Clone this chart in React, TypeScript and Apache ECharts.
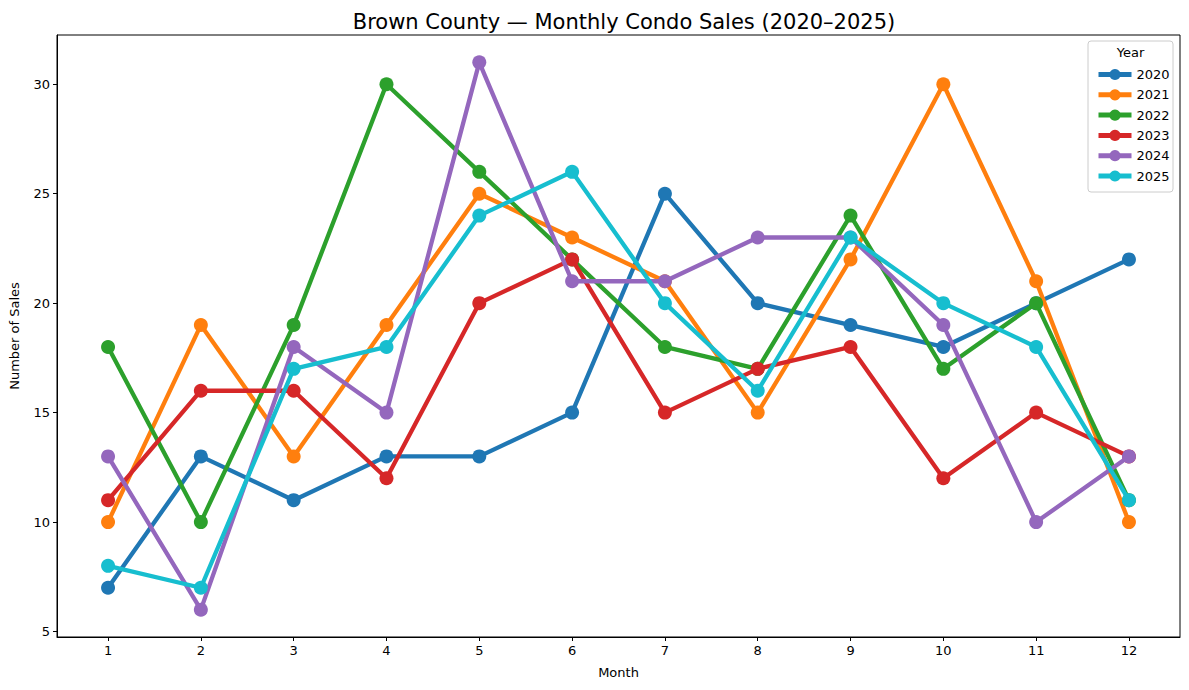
import React, { useEffect, useRef } from "react";
import * as echarts from "echarts";

const months = [1, 2, 3, 4, 5, 6, 7, 8, 9, 10, 11, 12];
const years = ["2020", "2021", "2022", "2023", "2024", "2025"];
const sales2020 = [7, 13, 11, 13, 13, 15, 25, 20, 19, 18, 20, 22];
const sales2021 = [10, 19, 13, 19, 25, 23, 21, 15, 22, 30, 21, 10];
const sales2022 = [18, 10, 19, 30, 26, 22, 18, 17, 24, 17, 20, 11];
const sales2023 = [11, 16, 16, 12, 20, 22, 15, 17, 18, 12, 15, 13];
const sales2024 = [13, 6, 18, 15, 31, 21, 21, 23, 23, 19, 10, 13];
const sales2025 = [8, 7, 17, 18, 24, 26, 20, 16, 23, 20, 18, 11];
const yTicks = [5, 10, 15, 20, 25, 30];
const colors = ["#1f77b4", "#ff7f0e", "#2ca02c", "#d62728", "#9467bd", "#17becf"];

const FONT = "DejaVu Sans";

export default function App() {
  const ref = useRef<HTMLDivElement>(null);
  useEffect(() => {
    if (!ref.current) return;
    const chart = echarts.init(ref.current, null, { renderer: "svg" });
    const all = [sales2020, sales2021, sales2022, sales2023, sales2024, sales2025];
    const series = years.map((y, i) => ({
      name: y,
      type: "line",
      data: months.map((m, j) => [m, all[i][j]]),
      symbol: "circle",
      symbolSize: 14,
      lineStyle: { width: 4.3, color: colors[i] },
      itemStyle: { color: colors[i] },
      z: 2 + i,
    }));
    chart.setOption({
      animation: false,
      textStyle: { fontFamily: FONT },
      title: {
        text: "Brown County — Monthly Condo Sales (2020–2025)",
        left: 619,
        top: 6,
        textAlign: "center",
        textStyle: { fontFamily: FONT, fontSize: 21, fontWeight: "normal", color: "#000" },
      },
      grid: {
        left: 57,
        right: 9,
        top: 35,
        bottom: 53,
        show: true,
        borderColor: "#000",
        borderWidth: 1,
        backgroundColor: "transparent",
      },
      xAxis: {
        type: "value",
        min: 0.45,
        max: 12.55,
        name: "Month",
        nameLocation: "middle",
        nameGap: 29,
        nameTextStyle: { fontFamily: FONT, fontSize: 13, color: "#000" },
        splitLine: { show: false },
        axisLine: { show: true, lineStyle: { color: "#000", width: 1 } },
        axisTick: { show: true, length: 4, lineStyle: { color: "#000" }, customValues: months },
        axisLabel: { fontFamily: FONT, fontSize: 13, color: "#000", margin: 7, customValues: months },
      },
      yAxis: {
        type: "value",
        min: 4.75,
        max: 32.25,
        name: "Number of Sales",
        nameLocation: "middle",
        nameGap: 36,
        nameTextStyle: { fontFamily: FONT, fontSize: 13, color: "#000" },
        splitLine: { show: false },
        axisLine: { show: true, lineStyle: { color: "#000", width: 1 } },
        axisTick: { show: true, length: 4, lineStyle: { color: "#000" }, customValues: yTicks },
        axisLabel: { fontFamily: FONT, fontSize: 13, color: "#000", margin: 7, customValues: yTicks },
      },
      legend: {
        orient: "vertical",
        left: 1091,
        top: 63,
        itemWidth: 33,
        itemHeight: 14,
        itemGap: 7.3,
        z: 20,
        lineStyle: { width: 5 },
        textStyle: { fontFamily: FONT, fontSize: 13, color: "#000" },
        data: years,
      },
      graphic: [
        {
          type: "rect",
          shape: { x: 1088, y: 41, width: 85, height: 151, r: 3 },
          style: { fill: "rgba(255,255,255,0.8)", stroke: "#ccc", lineWidth: 1 },
          z: 1,
          silent: true,
        },
        {
          type: "text",
          x: 1130.5,
          y: 46,
          style: { text: "Year", fontFamily: FONT, fontSize: 13, fill: "#000", textAlign: "center" },
          z: 21,
        },
      ],
      series,
    });
    return () => chart.dispose();
  }, []);
  return (
    <div
      ref={ref}
      style={{ position: "absolute", left: 0, top: 0, width: 1189, height: 690 }}
    />
  );
}
